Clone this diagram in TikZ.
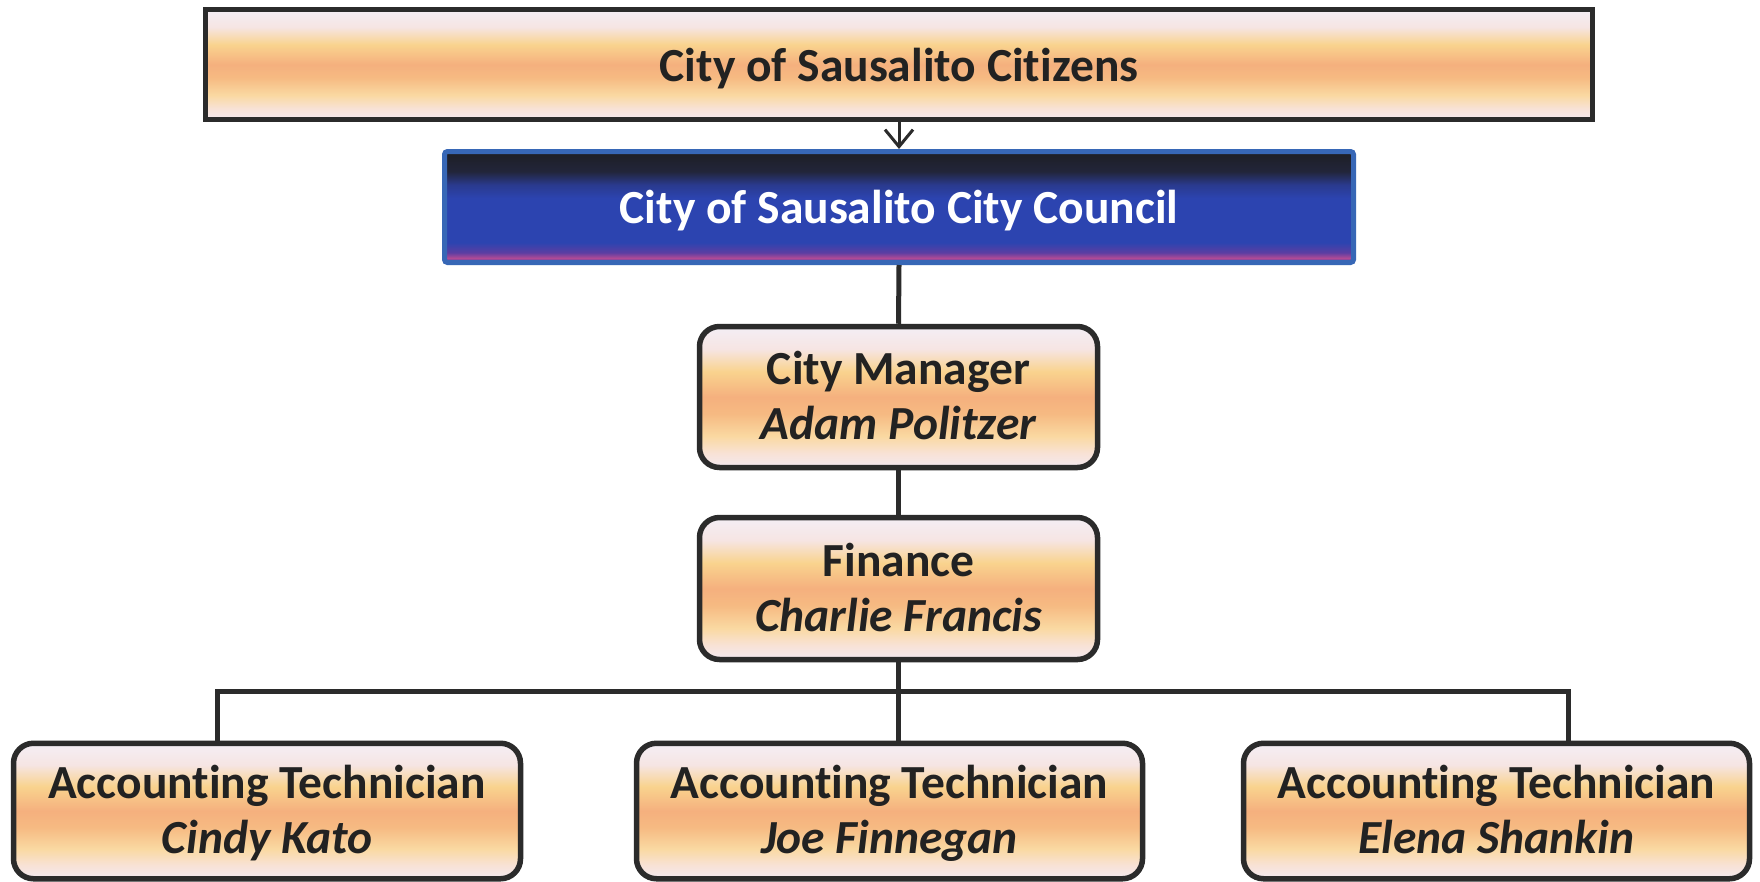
\documentclass[tikz,border=0pt]{standalone}
\usepackage{fontspec}
\setmainfont{Carlito}[Ligatures={NoCommon}]
\usetikzlibrary{arrows.meta}

\definecolor{wbPale}{HTML}{F3E9F0}
\definecolor{wbLight}{HTML}{F8E2D6}
\definecolor{wbCream}{HTML}{FAD9A2}
\definecolor{wbOrange}{HTML}{F6BA82}
\definecolor{wbSalmon}{HTML}{F5B07E}
\definecolor{wbYellow}{HTML}{F9D38E}
\definecolor{wbBlush}{HTML}{F6E5E3}
\definecolor{wbTop}{HTML}{F4EEF5}
\definecolor{cbBlack}{HTML}{1D1E24}
\definecolor{cbDark}{HTML}{22253A}
\definecolor{cbMid}{HTML}{2A3A8E}
\definecolor{cbBlue}{HTML}{2C44B0}
\definecolor{cbPurple}{HTML}{5B3EA2}
\definecolor{cbPink}{HTML}{B04A96}
\definecolor{cbEdge}{HTML}{3767B6}
\definecolor{inkline}{HTML}{2B2B2B}
\definecolor{inktext}{HTML}{222222}

% warm band fill of the staff boxes (0bp..100bp, path occupies 25bp..75bp, bottom to top)
\pgfdeclareverticalshading{warmband}{100bp}{%
  color(0bp)=(wbPale);
  color(25bp)=(wbPale);
  color(30bp)=(wbLight);
  color(36bp)=(wbCream);
  color(44bp)=(wbOrange);
  color(50bp)=(wbSalmon);
  color(59bp)=(wbYellow);
  color(67bp)=(wbBlush);
  color(75bp)=(wbTop);
  color(100bp)=(wbTop)}
% dark-to-blue fill of the council banner
\pgfdeclareverticalshading{councilband}{100bp}{%
  color(0bp)=(cbBlue);
  color(25bp)=(cbBlue);
  color(27bp)=(cbPink);
  color(29.5bp)=(cbPurple);
  color(34bp)=(cbBlue);
  color(54bp)=(cbBlue);
  color(60bp)=(cbMid);
  color(66bp)=(cbDark);
  color(75bp)=(cbBlack);
  color(100bp)=(cbBlack)}

\tikzset{
  orgtext/.style={font=\fontsize{47.5}{55}\selectfont\bfseries, text=inktext, align=center},
  oneline/.style={text height=36pt, text depth=3pt},
  staffbox/.style={orgtext, text depth=3pt, draw=inkline, line width=5.5pt, rounded corners=20pt,
    shading=warmband, inner sep=0pt},
  citizenbox/.style={orgtext, oneline, draw=inkline, line width=5.5pt, shading=warmband, inner sep=0pt},
  councilbox/.style={orgtext, oneline, text=white, draw=cbEdge, line width=5pt, rounded corners=3pt,
    shading=councilband, inner sep=0pt},
  link/.style={draw=inkline, line width=5pt},
  feed/.style={draw=inkline, line width=3pt, -{Straight Barb[length=17pt,width=28pt]}}
}

\begin{document}
\begin{tikzpicture}[x=1pt, y=-1pt]
  \useasboundingbox[fill=white] (0,0) rectangle (1760,881);

  % top of the chart
  \node[citizenbox, minimum width=1387pt, minimum height=110pt] (citizens) at (899,64.5)
    {City of Sausalito Citizens};
  \node[councilbox, minimum width=909pt, minimum height=111pt] (council) at (899,207)
    {City of Sausalito City Council};

  % management chain
  \node[staffbox, minimum width=398pt, minimum height=141pt] (manager) at (898.5,397)
    {City Manager\\{\itshape Adam Politzer}};
  \node[staffbox, minimum width=398pt, minimum height=142pt] (finance) at (898.5,588.5)
    {Finance\\{\itshape Charlie Francis}};

  % technicians
  \node[staffbox, minimum width=507pt, minimum height=135.5pt] (techA) at (267,811)
    {Accounting Technician\\{\itshape Cindy Kato}};
  \node[staffbox, minimum width=506pt, minimum height=135.5pt] (techB) at (889.5,811)
    {Accounting Technician\\{\itshape Joe Finnegan}};
  \node[staffbox, minimum width=506pt, minimum height=135.5pt] (techC) at (1496.5,811)
    {Accounting Technician\\{\itshape Elena Shankin}};

  % connectors
  \draw[feed] (citizens.south -| council.north) -- (council.north);
  \draw[link] (council.south) -- (manager.north);
  \draw[link] (manager.south) -- (finance.north);

  \coordinate (busL) at (217,691);
  \coordinate (busR) at (1568,691);
  \draw[link] (finance.south) -- (finance.south |- busL);
  \draw[link, line cap=rect] (busL) -- (busR);
  \draw[link] (busL) -- (busL |- techA.north);
  \draw[link] (finance.south |- busL) -- (finance.south |- techB.north);
  \draw[link] (busR) -- (busR |- techC.north);
\end{tikzpicture}
\end{document}
